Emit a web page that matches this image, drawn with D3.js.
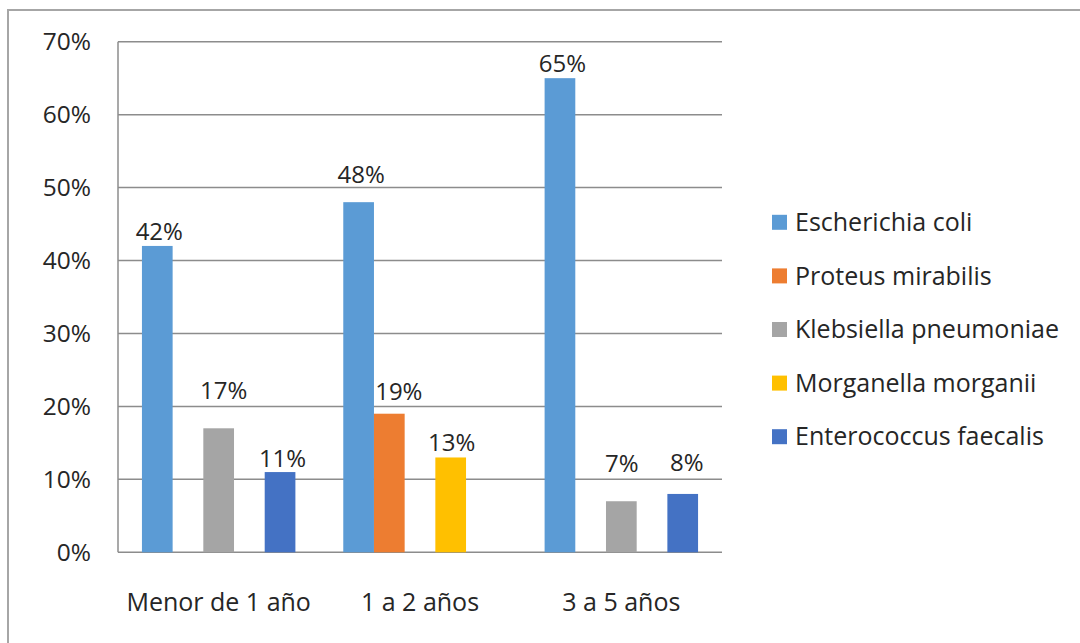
<!DOCTYPE html>
<html>
<head>
<meta charset="utf-8">
<script src="https://cdn.jsdelivr.net/npm/d3@7"></script>
<style>
  html, body { margin: 0; padding: 0; background: #fff; }
  svg { display: block; }
  text { font-family: "Open Sans", "Noto Sans", sans-serif; fill: #262626; }
</style>
</head>
<body>
<svg id="chart" width="1080" height="643"></svg>
<script>
// Age groups and bacterial species (percent of isolates per group)
const categories = ["Menor de 1 año", "1 a 2 años", "3 a 5 años"];
const seriesNames = ["Escherichia coli", "Proteus mirabilis", "Klebsiella pneumoniae", "Morganella morganii", "Enterococcus faecalis"];
const escherichiaColi = [42, 48, 65];
const proteusMirabilis = [null, 19, null];
const klebsiellaPneumoniae = [17, null, 7];
const morganellaMorganii = [null, 13, null];
const enterococcusFaecalis = [11, null, 8];
const seriesColors = ["#5B9BD5", "#ED7D31", "#A5A5A5", "#FFC000", "#4472C4"];
const yTicks = [0, 10, 20, 30, 40, 50, 60, 70];

const seriesValues = [escherichiaColi, proteusMirabilis, klebsiellaPneumoniae, morganellaMorganii, enterococcusFaecalis];

// Hand-placed value labels: gap above the bar top and horizontal nudge (px)
const labelLift = [[5.6, 19, 6.6], [null, 14, null], [29, null, 29], [null, 6.6, null], [5, null, 23]];
const labelNudge = [[2, 2.5, 2.5], [null, 9.5, null], [5, null, 0.5], [null, 1, null], [2.5, null, 4]];

const svg = d3.select("#chart");
const plot = { left: 118, right: 722, top: 41.7, bottom: 552.3 };

// Outer chart frame (top and left edges visible)
svg.append("path")
  .attr("d", `M8,643 L8,10 L1080,10`)
  .attr("fill", "none")
  .attr("stroke", "#a6a6a6")
  .attr("stroke-width", 2);

const y = d3.scaleLinear().domain([0, 70]).range([plot.bottom, plot.top]);
const x0 = d3.scaleBand().domain(categories).range([plot.left, plot.right]).paddingInner(0).paddingOuter(0);
const x1 = d3.scaleBand().domain(seriesNames).range([0, x0.bandwidth()]).paddingInner(0).paddingOuter(0.78);

// Horizontal gridlines
svg.append("g")
  .selectAll("line")
  .data(yTicks)
  .join("line")
  .attr("x1", plot.left).attr("x2", plot.right)
  .attr("y1", d => y(d)).attr("y2", d => y(d))
  .attr("stroke", "#8c8c8c")
  .attr("stroke-width", 1.5);

// Y axis line
svg.append("line")
  .attr("x1", plot.left).attr("x2", plot.left)
  .attr("y1", plot.top).attr("y2", plot.bottom)
  .attr("stroke", "#8c8c8c")
  .attr("stroke-width", 1.5);

// Y tick labels
svg.append("g")
  .selectAll("text")
  .data(yTicks)
  .join("text")
  .attr("x", 91)
  .attr("y", d => y(d))
  .attr("dy", "0.35em")
  .attr("text-anchor", "end")
  .attr("font-size", 24.5)
  .text(d => d + "%");

// Bars
const bars = [];
categories.forEach((c, ci) => {
  seriesNames.forEach((s, si) => {
    const v = seriesValues[si][ci];
    if (v != null) bars.push({
      category: c, series: s, value: v, color: seriesColors[si],
      lift: labelLift[si][ci], nudge: labelNudge[si][ci]
    });
  });
});

const barG = svg.append("g");
barG.selectAll("rect")
  .data(bars)
  .join("rect")
  .attr("x", d => x0(d.category) + x1(d.series))
  .attr("width", x1.bandwidth())
  .attr("y", d => y(d.value))
  .attr("height", d => y(0) - y(d.value))
  .attr("fill", d => d.color);

// Value labels above the bars
barG.selectAll("text")
  .data(bars)
  .join("text")
  .attr("x", d => x0(d.category) + x1(d.series) + x1.bandwidth() / 2 + d.nudge)
  .attr("y", d => y(d.value) - d.lift)
  .attr("text-anchor", "middle")
  .attr("font-size", 24)
  .text(d => d.value + "%");

// Category labels
svg.append("g")
  .selectAll("text")
  .data(categories)
  .join("text")
  .attr("x", d => x0(d) + x0.bandwidth() / 2)
  .attr("y", 602)
  .attr("dy", "0.35em")
  .attr("text-anchor", "middle")
  .attr("font-size", 25)
  .text(d => d);

// Legend
const legend = svg.append("g");
const legendRow = legend.selectAll("g")
  .data(seriesNames)
  .join("g")
  .attr("transform", (d, i) => `translate(772, ${222.3 + i * 53.6})`);
legendRow.append("rect")
  .attr("x", 0).attr("y", -7.5)
  .attr("width", 15).attr("height", 15)
  .attr("fill", (d, i) => seriesColors[i]);
legendRow.append("text")
  .attr("x", 23)
  .attr("y", 0)
  .attr("dy", "0.35em")
  .attr("font-size", 25)
  .text(d => d);
</script>
</body>
</html>
